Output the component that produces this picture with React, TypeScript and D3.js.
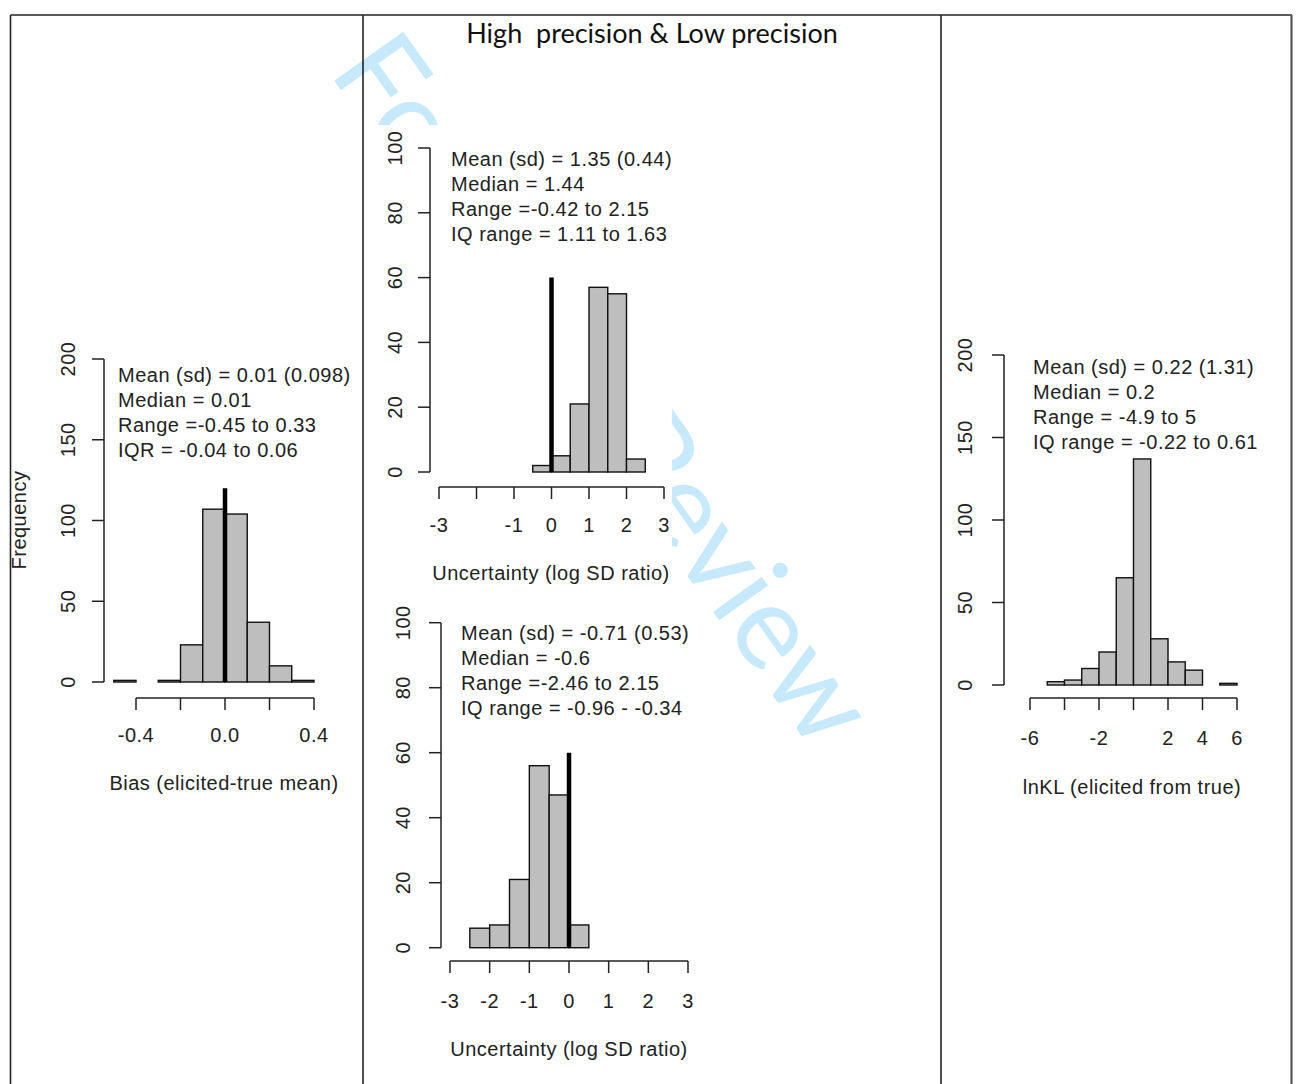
import React from 'react';
import * as d3 from 'd3';

// histogram bins (edges) and counts
const biasEdges = [-0.5, -0.4, -0.3, -0.2, -0.1, 0, 0.1, 0.2, 0.3, 0.4];
const biasCounts = [1, 0, 1, 23, 107, 104, 37, 10, 1];
const biasStats = ['Mean (sd) = 0.01 (0.098)', 'Median = 0.01', 'Range =-0.45 to 0.33', 'IQR = -0.04 to 0.06'];

const sdHighEdges = [-0.5, 0, 0.5, 1, 1.5, 2, 2.5];
const sdHighCounts = [2, 5, 21, 57, 55, 4];
const sdHighStats = ['Mean (sd) = 1.35 (0.44)', 'Median = 1.44', 'Range =-0.42 to 2.15', 'IQ range = 1.11 to 1.63'];

const sdLowEdges = [-2.5, -2, -1.5, -1, -0.5, 0, 0.5];
const sdLowCounts = [6, 7, 21, 56, 47, 7];
const sdLowStats = ['Mean (sd) = -0.71 (0.53)', 'Median = -0.6', 'Range =-2.46 to 2.15', 'IQ range = -0.96 - -0.34'];

const klEdges = [-7, -6, -5, -4, -3, -2, -1, 0, 1, 2, 3, 4, 5, 6];
const klCounts = [0, 0, 2, 3, 10, 20, 65, 137, 28, 14, 9, 0, 1];
const klStats = ['Mean (sd) = 0.22 (1.31)', 'Median = 0.2', 'Range = -4.9 to 5', 'IQ range = -0.22 to 0.61'];

// axis ticks and which tick labels R managed to print
const biasXTicks = [-0.4, -0.2, 0, 0.2, 0.4];
const biasXLabels = [-0.4, 0, 0.4];
const sdXTicks = [-3, -2, -1, 0, 1, 2, 3];
const sdHighXLabels = [-3, -1, 0, 1, 2, 3];
const sdLowXLabels = [-3, -2, -1, 0, 1, 2, 3];
const klXTicks = [-6, -4, -2, 0, 2, 4, 6];
const klXLabels = [-6, -2, 2, 4, 6];
const freqTicks200 = [0, 50, 100, 150, 200];
const freqTicks100 = [0, 20, 40, 60, 80, 100];

const titleText = 'High  precision & Low precision';
const watermark = 'For Peer Review';

const loc = d3.formatLocale({ decimal: '.', thousands: ',', grouping: [3], currency: ['', ''], minus: '-' });
const fmt1 = loc.format('.1f');
const fmt0 = loc.format('d');

const FONT = '"Liberation Sans", Arial, sans-serif';
const INK = '#222';
const FS = 20;
const LS = 0.5;

const panels = [
  {
    edges: biasEdges, counts: biasCounts, stats: biasStats, xTicks: biasXTicks, xLabels: biasXLabels, fmt: fmt1,
    yTicks: freqTicks200, xDom: [-0.4, 0.4], xPx: [136, 314], yMax: 200, yPx: [682, 359],
    yAxisX: 104, xAxisY: 698, yLabX: 68, xLabY: 742, title: 'Bias (elicited-true mean)', titlePos: [224, 790],
    statX: 118, statY: 382, ref: 120,
  },
  {
    edges: sdHighEdges, counts: sdHighCounts, stats: sdHighStats, xTicks: sdXTicks, xLabels: sdHighXLabels, fmt: fmt0,
    yTicks: freqTicks100, xDom: [-3, 3], xPx: [439, 664], yMax: 100, yPx: [472, 148],
    yAxisX: 430, xAxisY: 487, yLabX: 395, xLabY: 532, title: 'Uncertainty (log SD ratio)', titlePos: [551, 580],
    statX: 451, statY: 166, ref: 60,
  },
  {
    edges: sdLowEdges, counts: sdLowCounts, stats: sdLowStats, xTicks: sdXTicks, xLabels: sdLowXLabels, fmt: fmt0,
    yTicks: freqTicks100, xDom: [-3, 3], xPx: [450, 688], yMax: 100, yPx: [947.7, 622.7],
    yAxisX: 441, xAxisY: 961, yLabX: 403, xLabY: 1008, title: 'Uncertainty (log SD ratio)', titlePos: [569, 1056],
    statX: 461, statY: 640, ref: 60,
  },
  {
    edges: klEdges, counts: klCounts, stats: klStats, xTicks: klXTicks, xLabels: klXLabels, fmt: fmt0,
    yTicks: freqTicks200, xDom: [-6, 6], xPx: [1030, 1237], yMax: 200, yPx: [685, 355],
    yAxisX: 1004, xAxisY: 698, yLabX: 965, xLabY: 745, title: 'lnKL (elicited from true)', titlePos: [1132, 794],
    statX: 1033, statY: 374, ref: null,
  },
];

const Histogram = ({ p }) => {
  const x = d3.scaleLinear().domain(p.xDom).range(p.xPx);
  const y = d3.scaleLinear().domain([0, p.yMax]).range(p.yPx);
  const bins = p.counts.map((c, i) => ({ x0: p.edges[i], x1: p.edges[i + 1], c }));
  const xt = p.xTicks;
  return (
    <g fontFamily={FONT} fill={INK} fontSize={FS} letterSpacing={LS}>
      {bins.map((b, i) => (
        <rect key={i} x={x(b.x0)} y={y(b.c)} width={x(b.x1) - x(b.x0)} height={y(0) - y(b.c)}
          fill="#bebebe" stroke="#111" strokeWidth={1.4} />
      ))}
      {p.ref !== null && (
        <line x1={x(0)} x2={x(0)} y1={y(0)} y2={y(p.ref)} stroke="#000" strokeWidth={4.5} />
      )}
      {/* y axis */}
      <line x1={p.yAxisX} x2={p.yAxisX} y1={y(0)} y2={y(p.yMax)} stroke={INK} strokeWidth={1.5} />
      {p.yTicks.map(t => (
        <g key={t}>
          <line x1={p.yAxisX - 12} x2={p.yAxisX} y1={y(t)} y2={y(t)} stroke={INK} strokeWidth={1.5} />
          <text transform={`translate(${p.yLabX},${y(t)}) rotate(-90)`} textAnchor="middle" dy="0.35em">{t}</text>
        </g>
      ))}
      {/* x axis */}
      <line x1={x(xt[0])} x2={x(xt[xt.length - 1])} y1={p.xAxisY} y2={p.xAxisY} stroke={INK} strokeWidth={1.5} />
      {xt.map(t => (
        <line key={t} x1={x(t)} x2={x(t)} y1={p.xAxisY} y2={p.xAxisY + 12} stroke={INK} strokeWidth={1.5} />
      ))}
      {p.xLabels.map(t => (
        <text key={t} x={x(t)} y={p.xLabY} textAnchor="middle">{p.fmt(t)}</text>
      ))}
      <text x={p.titlePos[0]} y={p.titlePos[1]} textAnchor="middle">{p.title}</text>
      {p.stats.map((s, i) => (
        <text key={i} x={p.statX} y={p.statY + i * 25}>{s}</text>
      ))}
    </g>
  );
};

export default function App() {
  const W = 1298;
  const H = 1084;
  return (
    <div style={{ position: 'absolute', left: 0, top: 0 }}>
      <svg width={W} height={H} style={{ display: 'block', background: '#fff' }}>
        {/* faint watermark, partly hidden behind the pasted plot images */}
        <text transform="translate(328,72) rotate(54.5)" fontFamily="Lato, sans-serif" fontSize={118} fill="#c6eafb">{watermark}</text>
        <rect x={368} y={125} width={304} height={466} fill="#fff" />
        <rect x={372} y={596} width={320} height={480} fill="#fff" />

        {/* table grid */}
        <g stroke="#222" strokeWidth={1.6}>
          <line x1={10.5} x2={1292} y1={15} y2={15} />
          <line x1={10.5} x2={10.5} y1={15} y2={H} />
          <line x1={363} x2={363} y1={15} y2={H} />
          <line x1={941} x2={941} y1={15} y2={H} />
        </g>
        <line x1={1291.5} x2={1291.5} y1={15} y2={H} stroke="#555" strokeWidth={2.2} />

        <text x={652} y={43} textAnchor="middle" fontFamily="Lato, sans-serif" fontSize={27} fill="#111" style={{ whiteSpace: 'pre' }}>{titleText}</text>

        <text transform="translate(26,520) rotate(-90)" textAnchor="middle" fontFamily={FONT} fontSize={FS} letterSpacing={LS} fill={INK}>Frequency</text>

        {panels.map((p, i) => <Histogram key={i} p={p} />)}
      </svg>
    </div>
  );
}
